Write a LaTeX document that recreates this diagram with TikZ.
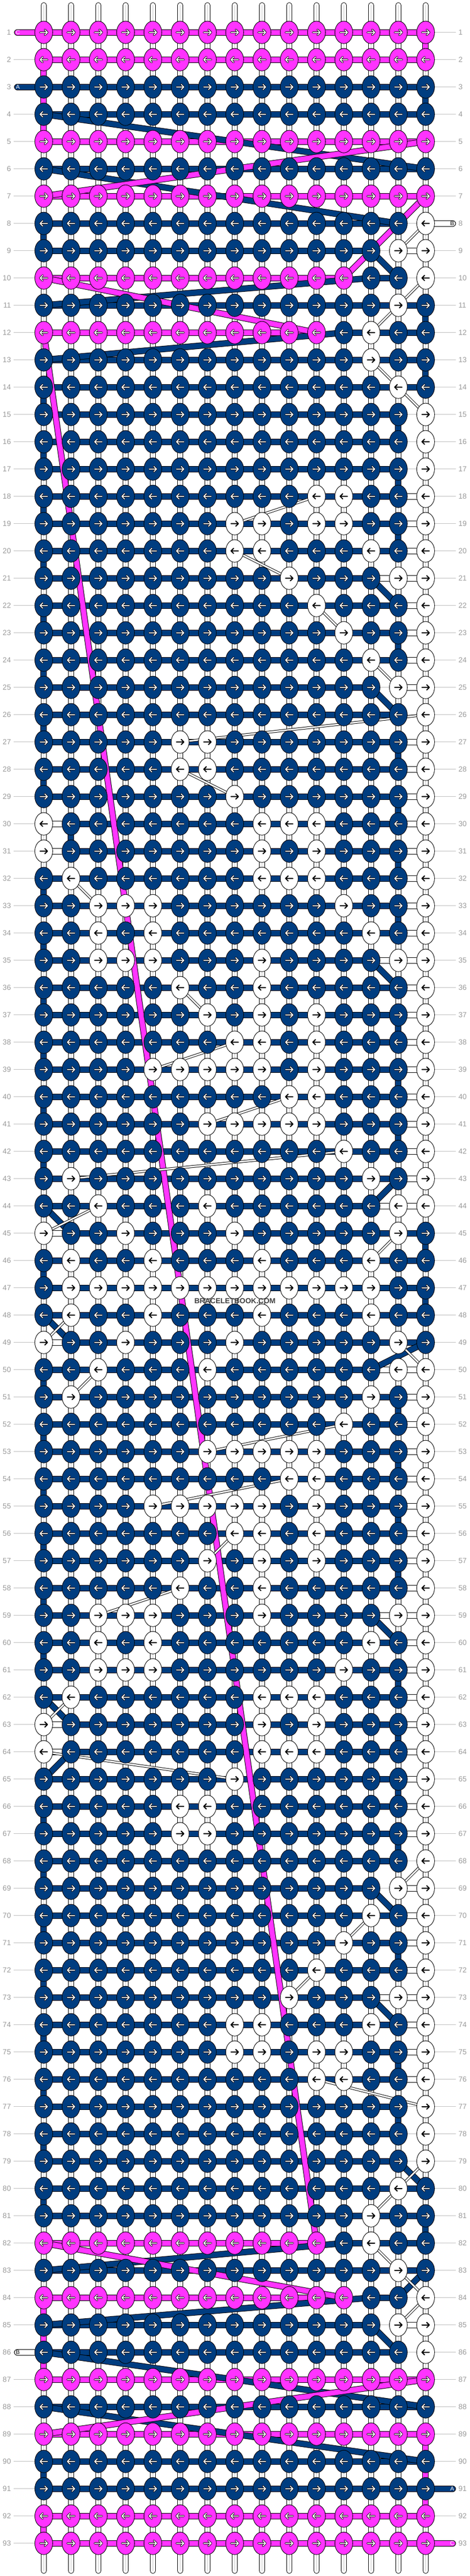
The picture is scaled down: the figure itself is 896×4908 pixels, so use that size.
\documentclass[tikz,border=0pt]{standalone}
\usepackage{fontspec}
\setmainfont{Liberation Sans}
\usepackage{xstring}
\usetikzlibrary{shapes.geometric}

\definecolor{N}{RGB}{0,61,128}
\definecolor{M}{RGB}{255,51,255}
\definecolor{W}{RGB}{255,255,255}
\definecolor{numgray}{RGB}{153,153,153}
\definecolor{guidegray}{RGB}{190,190,190}

% one string per row, 15 knots: N = navy (A), M = pink (C), W = white (B)
\def\knotrows{MMMMMMMMMMMMMMM,MMMMMMMMMMMMMMM,NNNNNNNNNNNNNNN,NNNNNNNNNNNNNNN,MMMMMMMMMMMMMMM,%
NNNNNNNNNNNNNNN,MMMMMMMMMMMMMMM,NNNNNNNNNNNNNNW,NNNNNNNNNNNNNWW,MMMMMMMMMMMMNNW,%
NNNNNNNNNNNNNWN,MMMMMMMMMMMNWNN,NNNNNNNNNNNNWNN,NNNNNNNNNNNNNWN,NNNNNNNNNNNNNNW,%
NNNNNNNNNNNNNNW,NNNNNNNNNNNNNNW,NNNNNNNNNNWWNNW,NNNNNNNWWNWWNNW,NNNNNNNWWNNNWNW,%
NNNNNNNNNWNNNWW,NNNNNNNNNNWNNNW,NNNNNNNNNNNWNNW,NNNNNNNNNNNNWNW,NNNNNNNNNNNNNWW,%
NNNNNNNNNNNNNNW,NNNNNWWNNNNNNNW,NNNNNWWNNNNNNNW,NNNNNNNWNNNNNNW,WNNNNNNNWWWNNNW,%
WNNNNNNNWNWNNNW,NWNNNNNNWWWNNNW,NNWWWNNNNNNWNNW,NNWNWNNNNNNNWNW,NNWWWNNNWNNNNWW,%
NNNNNWNNWNNNNNW,NNNNNNWNWNWNNNW,NNNNNNNWWNWNNNW,NNNNWWWWWNWNNNW,NNNNNNNNNWWNNNW,%
NNNNNNWWWWWNNNW,NNNNNNNNNNNWNNW,NWNNNNNNNNNNWNW,NNWNNNWNNNNNNWW,WNNWNNNWNNNNNWN,%
NWNNWNNNWNNNWNN,NWWWWWWWWWWWWNN,NWNNWNNNWNNNWNN,WNNWNNNWNNNNNWN,NNWNNNWNNNNNNWW,%
NWNNNNNNNNNNWNW,NNNNNNNNNNNWNNW,NNNNNNWWWWWNNNW,NNNNNNNNNWWNNNW,NNNNWWWWWNWNNNW,%
NNNNNNNWWNWNNNW,NNNNNNWNWNWNNNW,NNNNNWNNWNNNNNW,NNWWWNNNWNNNNWW,NNWNWNNNNNNNWNW,%
NNWWWNNNNNNWNNW,NWNNNNNNWWWNNNW,WNNNNNNNWNWNNNW,WNNNNNNNWWWNNNW,NNNNNNNWNNNNNNW,%
NNNNNWWNNNNNNNW,NNNNNWWNNNNNNNW,NNNNNNNNNNNNNNW,NNNNNNNNNNNNNWW,NNNNNNNNNNNNWNW,%
NNNNNNNNNNNWNNW,NNNNNNNNNNWNNNW,NNNNNNNNNWNNNWW,NNNNNNNWWNNNWNW,NNNNNNNWWNWWNNW,%
NNNNNNNNNNWWNNW,NNNNNNNNNNNNNNW,NNNNNNNNNNNNNNW,NNNNNNNNNNNNNNW,NNNNNNNNNNNNNWN,%
NNNNNNNNNNNNWNN,MMMMMMMMMMMNWNN,NNNNNNNNNNNNNWN,MMMMMMMMMMMMNNW,NNNNNNNNNNNNNWW,%
NNNNNNNNNNNNNNW,MMMMMMMMMMMMMMM,NNNNNNNNNNNNNNN,MMMMMMMMMMMMMMM,NNNNNNNNNNNNNNN,%
NNNNNNNNNNNNNNN,MMMMMMMMMMMMMMM,MMMMMMMMMMMMMMM}

% append #2 to the comma list #1 (globally)
\newcommand{\addto}[2]{\xdef#1{#1\ifx#1\empty\else,\fi#2}}

\begin{document}
\begin{tikzpicture}[x=1pt,y=-1pt]
\tikzstyle{warp}=[line width=11pt, draw=black, line cap=round, postaction={draw=white, line width=9pt}, postaction={draw=black!22, line width=1.4pt}]
\tikzstyle{guide}=[draw=guidegray, line width=1pt]
\tikzset{strand/.style={line width=12pt, draw=black, postaction={draw=#1, line width=10pt}}}
\tikzstyle{carry}=[line width=5pt, draw=black, postaction={draw=white, line width=3pt}]
\tikzstyle{knot}=[draw=black, line width=0.9pt]
\tikzstyle{lightpointer}=[line width=3.6pt, draw=black, line cap=round, line join=round, postaction={draw=white, line width=1.8pt}]
\tikzstyle{darkpointer}=[line width=2pt, draw=black, line cap=round, line join=round]
\tikzstyle{rownum}=[font=\fontsize{14}{16}\selectfont, text=numgray, inner sep=0pt]
\tikzstyle{tag}=[font=\fontsize{11}{12}\selectfont, inner sep=0pt]

\useasboundingbox (0,0) rectangle (896,4908);

% knot positions
\foreach \row in {1,...,93}{
  \foreach \col in {1,...,15}{
    \coordinate (p\row-\col) at ({83.4+52*(\col-1)},{61.7+52*(\row-1)});
  }
}

% white vertical strings
\foreach \col in {1,...,15}{
  \coordinate (top\col) at ({83.4+52*(\col-1)},10);
  \coordinate (bot\col) at ({83.4+52*(\col-1)},4898);
  \draw[warp] (top\col) -- (bot\col);
}

% row guides and numbers
\foreach \row in {1,...,93}{
  \coordinate (gl\row) at (26,{61.7+52*(\row-1)});
  \coordinate (gr\row) at (869,{61.7+52*(\row-1)});
  \draw[guide] (gl\row) -- (gr\row);
  \node[rownum, anchor=east] (nl\row) at ([xshift=-5pt]gl\row) {\row};
  \node[rownum, anchor=west] (nr\row) at ([xshift=5pt]gr\row) {\row};
}

% horizontal pieces between knots, and knot lists per row
\foreach \cols [count=\row] in \knotrows {
  \gdef\aLo{0}\gdef\aHi{0}\gdef\cLo{0}\gdef\cHi{0}\gdef\bLo{0}\gdef\bHi{0}
  \gdef\listN{}\gdef\listM{}\gdef\listW{}\gdef\listL{}
  \foreach \col in {1,...,15}{
    \StrChar{\cols}{\col}[\kc]
    \IfStrEq{\kc}{N}{\ifnum\aLo=0 \xdef\aLo{\col}\fi\xdef\aHi{\col}\addto\listN{\col}\addto\listL{\col}}{}
    \IfStrEq{\kc}{M}{\ifnum\cLo=0 \xdef\cLo{\col}\fi\xdef\cHi{\col}\addto\listM{\col}\addto\listL{\col}}{}
    \IfStrEq{\kc}{W}{\ifnum\bLo=0 \xdef\bLo{\col}\fi\xdef\bHi{\col}\addto\listW{\col}}{}
  }
  \global\expandafter\let\csname kN\row\endcsname\listN
  \global\expandafter\let\csname kM\row\endcsname\listM
  \global\expandafter\let\csname kW\row\endcsname\listW
  \global\expandafter\let\csname kL\row\endcsname\listL
  \gdef\gapN{}\gdef\gapM{}\gdef\gapW{}
  \foreach \col in {1,...,14}{
    \pgfmathtruncatemacro\nxt{\col+1}
    \StrChar{\cols}{\col}[\ka]
    \StrChar{\cols}{\nxt}[\kb]
    \pgfmathtruncatemacro\inA{and(\col>=\aLo,\nxt<=\aHi)}
    \pgfmathtruncatemacro\inC{and(\col>=\cLo,\nxt<=\cHi)}
    \pgfmathtruncatemacro\inB{and(\col>=\bLo,\nxt<=\bHi)}
    \def\gapcol{none}
    \ifnum\inB=1 \def\gapcol{W}\fi
    \ifnum\inC=1 \def\gapcol{M}\fi
    \ifnum\inA=1 \def\gapcol{N}\fi
    \IfStrEq{\ka\kb}{MM}{\def\gapcol{M}}{}
    \IfStrEq{\gapcol}{N}{\addto\gapN{\col}}{}
    \IfStrEq{\gapcol}{M}{\addto\gapM{\col}}{}
    \IfStrEq{\gapcol}{W}{\addto\gapW{\col}}{}
  }
  \ifx\gapN\empty\else \draw[strand=N] foreach \col in \gapN {(p\row-\col) -- ++(52,0)}; \fi
  \ifx\gapM\empty\else \draw[strand=M] foreach \col in \gapM {(p\row-\col) -- ++(52,0)}; \fi
  \ifx\gapW\empty\else \draw[strand=W] foreach \col in \gapW {(p\row-\col) -- ++(52,0)}; \fi
}

% string A turning from row to row
\foreach \ra/\ca/\rb/\cb in {3/15/4/15, 4/1/6/15, 6/1/8/14, 8/1/9/1, 9/13/10/14, 10/13/11/1,
  11/15/12/15, 12/12/13/1, 13/15/14/15, 14/1/15/1, 15/14/16/14, 16/1/17/1, 17/14/18/14,
  18/1/19/1, 19/14/20/14, 20/1/21/1, 21/13/22/14, 22/1/23/1, 23/14/24/14, 24/1/25/1,
  25/13/26/14, 26/1/27/1, 27/14/28/14, 28/1/29/1, 29/14/30/14, 30/2/31/2, 31/14/32/14,
  32/1/33/1, 33/14/34/14, 34/1/35/1, 35/13/36/14, 36/1/37/1, 37/14/38/14, 38/1/39/1,
  39/14/40/14, 40/1/41/1, 41/14/42/14, 42/1/43/1, 43/14/44/13, 44/1/45/2, 45/15/46/15,
  46/1/47/1, 47/15/48/15, 48/1/49/2, 49/15/50/13, 50/1/51/1, 51/14/52/14, 52/1/53/1,
  53/14/54/14, 54/1/55/1, 55/14/56/14, 56/1/57/1, 57/14/58/14, 58/1/59/1, 59/13/60/14,
  60/1/61/1, 61/14/62/14, 62/1/63/2, 63/14/64/14, 64/2/65/1, 65/14/66/14, 66/1/67/1,
  67/14/68/14, 68/1/69/1, 69/13/70/14, 70/1/71/1, 71/14/72/14, 72/1/73/1, 73/13/74/14,
  74/1/75/1, 75/14/76/14, 76/1/77/1, 77/14/78/14, 78/1/79/1, 79/14/80/15, 80/1/81/1,
  81/15/82/15, 82/12/83/1, 83/15/84/14, 84/13/85/1, 85/13/86/14, 86/1/88/15, 88/1/90/15,
  90/1/91/1}
  \draw[strand=N] (p\ra-\ca) -- (p\rb-\cb);

% string C
\foreach \ra/\ca/\rb/\cb in {1/15/2/15, 2/1/5/1, 5/15/7/1, 7/15/10/12, 10/1/12/11, 12/1/82/11,
  82/1/84/12, 84/1/87/1, 87/15/89/1, 89/15/92/15, 92/1/93/1}
  \draw[strand=M] (p\ra-\ca) -- (p\rb-\cb);

% string B moving under the knots
\foreach \ra/\ca/\rb/\cb in {8/15/9/14, 10/15/11/14, 11/14/12/13, 13/13/14/14, 14/14/15/15,
  18/11/19/8, 20/8/21/10, 22/11/23/12, 24/13/25/14, 26/15/27/6, 28/6/29/8, 32/2/33/3,
  36/6/37/7, 38/8/39/5, 40/10/41/7, 42/12/43/2, 44/3/45/1, 45/14/46/13, 48/2/49/1,
  49/14/50/15, 50/3/51/2, 52/12/53/7, 54/10/55/5, 56/8/57/7, 58/6/59/3, 62/2/63/1,
  64/1/65/8, 68/15/69/14, 70/13/71/12, 72/11/73/10, 76/11/77/15, 79/15/80/14, 80/14/81/13,
  82/13/83/14, 83/14/84/15, 84/15/85/14}
  \draw[carry] (p\ra-\ca) -- (p\rb-\cb);

% loose ends
\coordinate (endC1) at (33,61.7);
\coordinate (endA1) at (33,165.7);
\coordinate (endB1) at (863,425.7);
\coordinate (endB2) at (33,4481.7);
\coordinate (endA2) at (863,4741.7);
\coordinate (endC2) at (863,4845.7);
\draw[strand=M, line cap=round] (endC1) -- (p1-1);
\draw[strand=N, line cap=round] (endA1) -- (p3-1);
\draw[strand=W, line cap=round] (endB1) -- (p8-15);
\draw[strand=W, line cap=round] (endB2) -- (p86-1);
\draw[strand=N, line cap=round] (endA2) -- (p91-15);
\draw[strand=M, line cap=round] (endC2) -- (p93-15);
\node[tag, text=white] (tagC1) at ([xshift=1pt]endC1) {C};
\node[tag, text=white] (tagA1) at ([xshift=1pt]endA1) {A};
\node[tag, text=black] (tagB1) at ([xshift=-1pt]endB1) {B};
\node[tag, text=black] (tagB2) at ([xshift=1pt]endB2) {B};
\node[tag, text=white] (tagA2) at ([xshift=-1pt]endA2) {A};
\node[tag, text=white] (tagC2) at ([xshift=-1pt]endC2) {C};

% knots and their arrows
\foreach \row in {1,...,93}{
  \pgfmathtruncatemacro\dir{1-2*mod(\row+1,2)}
  \expandafter\let\expandafter\listN\csname kN\row\endcsname
  \expandafter\let\expandafter\listM\csname kM\row\endcsname
  \expandafter\let\expandafter\listW\csname kW\row\endcsname
  \expandafter\let\expandafter\listL\csname kL\row\endcsname
  \ifx\listN\empty\else \filldraw[knot, fill=N] foreach \col in \listN {(p\row-\col) ellipse (17 and 21.5)}; \fi
  \ifx\listM\empty\else \filldraw[knot, fill=M] foreach \col in \listM {(p\row-\col) ellipse (17 and 21.5)}; \fi
  \ifx\listW\empty\else \filldraw[knot, fill=W] foreach \col in \listW {(p\row-\col) ellipse (17 and 21.5)}; \fi
  \ifx\listL\empty\else
    \draw[lightpointer] foreach \col in \listL {(p\row-\col) ++({-7*\dir},0) -- ++({14*\dir},0) ++({-5*\dir},-5) -- ++({5*\dir},5) -- ++({-5*\dir},5)};
  \fi
  \ifx\listW\empty\else
    \draw[darkpointer] foreach \col in \listW {(p\row-\col) ++({-7*\dir},0) -- ++({14*\dir},0) ++({-5*\dir},-5) -- ++({5*\dir},5) -- ++({-5*\dir},5)};
  \fi
}

\node[font=\bfseries\fontsize{14}{16}\selectfont, text=black!75, inner sep=0pt] (mark) at (448,2479) {BRACELETBOOK.COM};
\end{tikzpicture}
\end{document}
